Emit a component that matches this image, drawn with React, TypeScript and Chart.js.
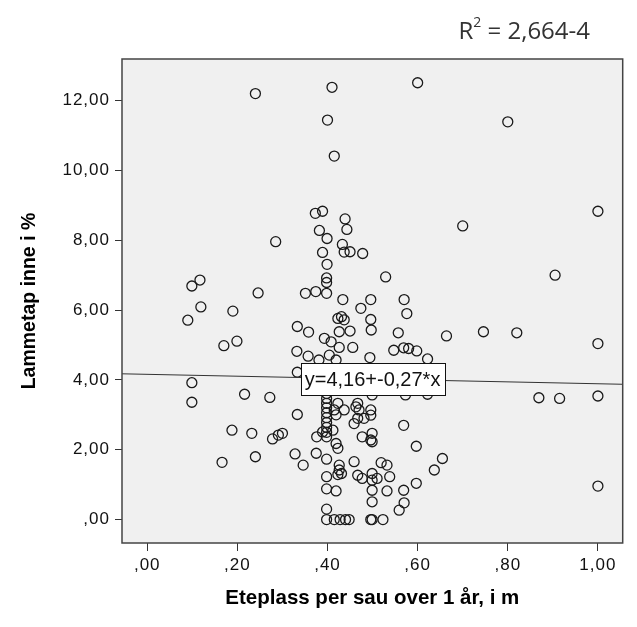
import React, { useEffect, useRef } from "react";
import { Chart, registerables } from "chart.js";

Chart.register(...registerables);

// Eteplass per sau (m) and lammetap inne (%) for each farm
const eteplass = [
  0.24, 0.41, 0.4, 0.415, 0.6, 0.8, 1.0, 0.7, 0.905, 0.529,
  0.373, 0.389, 0.439, 0.443, 0.382, 0.399, 0.285, 0.433, 0.389, 0.437,
  0.45, 0.478, 0.399, 0.398, 0.398, 0.117, 0.099, 0.246, 0.351, 0.374,
  0.398, 0.434, 0.496, 0.57, 0.474, 0.119, 0.09, 0.19, 0.17, 0.199,
  0.576, 0.496, 0.497, 0.333, 0.358, 0.423, 0.431, 0.437, 0.426, 0.45,
  0.557, 0.664, 0.746, 0.82, 1.0, 0.393, 0.408, 0.426, 0.456, 0.332,
  0.357, 0.381, 0.404, 0.419, 0.494, 0.547, 0.569, 0.58, 0.598, 0.622,
  0.333, 0.4, 0.46, 0.55, 0.573, 0.622, 0.499, 0.869, 0.915, 1.0,
  0.099, 0.099, 0.216, 0.272, 0.333, 0.419, 0.423, 0.467, 0.415, 0.437,
  0.463, 0.47, 0.496, 0.459, 0.467, 0.481, 0.496, 0.569, 0.499, 0.499,
  0.597, 0.655, 0.637, 0.519, 0.532, 0.538, 0.499, 0.499, 0.499, 0.499,
  0.51, 0.532, 0.569, 0.597, 0.57, 0.559, 0.499, 0.523, 1.0, 0.188,
  0.232, 0.278, 0.291, 0.3, 0.166, 0.24, 0.328, 0.346, 0.376, 0.389,
  0.412, 0.375, 0.398, 0.419, 0.423, 0.426, 0.426, 0.431, 0.423, 0.459,
  0.467, 0.477, 0.477, 0.496, 0.398, 0.398, 0.419, 0.398, 0.398, 0.415,
  0.428, 0.44, 0.448, 0.496, 0.398, 0.398, 0.398, 0.398, 0.398, 0.398,
  0.398, 0.398, 0.398, 0.398,
];

const lammetap = [
  12.2, 12.38, 11.44, 10.41, 12.51, 11.39, 8.83, 8.41, 7.0, 6.95,
  8.77, 8.83, 8.61, 8.31, 8.28, 8.05, 7.96, 7.88, 7.65, 7.66,
  7.67, 7.62, 7.31, 6.92, 6.79, 6.86, 6.69, 6.49, 6.48, 6.53,
  6.48, 6.3, 6.3, 6.3, 6.05, 6.09, 5.71, 5.97, 4.98, 5.11,
  5.9, 5.73, 5.43, 5.53, 5.37, 5.76, 5.81, 5.72, 5.38, 5.4,
  5.35, 5.26, 5.38, 5.35, 5.04, 5.19, 5.09, 4.93, 4.93, 4.82,
  4.68, 4.57, 4.71, 4.57, 4.64, 4.85, 4.92, 4.9, 4.83, 4.6,
  4.22, 4.15, 3.95, 4.1, 3.57, 3.59, 3.57, 3.49, 3.47, 3.54,
  3.92, 3.36, 3.59, 3.5, 3.01, 3.0, 3.33, 3.33, 3.14, 3.14,
  3.23, 3.14, 3.14, 2.75, 2.9, 2.9, 2.99, 2.7, 2.47, 2.23,
  2.1, 1.75, 1.42, 1.63, 1.56, 1.23, 1.32, 1.13, 0.84, 0.51,
  1.18, 0.82, 0.84, 1.04, 0.48, 0.27, 0.0, 0.0, 0.96, 2.56,
  2.47, 2.31, 2.42, 2.47, 1.64, 1.8, 1.88, 1.56, 2.37, 2.51,
  2.56, 1.9, 1.73, 2.18, 2.04, 1.56, 1.42, 1.32, 1.29, 1.66,
  1.27, 1.18, 2.37, 2.28, 1.23, 0.88, 0.82, 0.3, 0.0, 0.0,
  0.0, 0.0, 0.0, 0.0, 3.61, 3.47, 3.33, 3.2, 3.06, 2.92,
  2.78, 2.64, 2.5, 2.37,
];

const xTicks = [0, 0.2, 0.4, 0.6, 0.8, 1.0];
const yTicks = [0, 2, 4, 6, 8, 10, 12];
const xRange = [-0.056, 1.055];
const yRange = [-0.67, 13.19];

// Linear fit reported for the cloud
const fitIntercept = 4.16;
const fitSlope = -0.27;
const fitLabelAt = 0.5;
const rSquaredText = "2,664-4";

const xTitle = "Eteplass per sau over 1 år, i m";
const yTitle = "Lammetap inne i %";

const CANVAS_W = 621;
const CANVAS_H = 611;

// SPSS style numbers: decimal comma, no leading zero below 1
const axisNum = (v: number) => {
  const s = Math.abs(v).toFixed(2).replace(".", ",");
  const t = s.startsWith("0,") ? s.slice(1) : s;
  return (v < 0 ? "-" : "") + t;
};
const eqNum = (v: number) => v.toFixed(2).replace(".", ",");

const TICK_FONT = "'Liberation Sans', Arial, sans-serif";

const decorPlugin = {
  id: "spssDecor",
  beforeDraw(chart: any) {
    const { ctx, chartArea: a } = chart;
    ctx.save();
    ctx.fillStyle = "#ffffff";
    ctx.fillRect(0, 0, chart.width, chart.height);
    ctx.fillStyle = "#f0f0f0";
    ctx.fillRect(a.left, a.top, a.right - a.left, a.bottom - a.top);
    ctx.restore();
    // slightly spaced tick numerals
    ctx.letterSpacing = "1px";
  },
  beforeDatasetsDraw(chart: any) {
    chart.ctx.letterSpacing = "0px";
  },
  afterDatasetsDraw(chart: any) {
    const { ctx, scales } = chart;
    const px = scales.x.getPixelForValue(fitLabelAt);
    const py = scales.y.getPixelForValue(fitIntercept + fitSlope * fitLabelAt);
    const text = `y=${eqNum(fitIntercept)}+${eqNum(fitSlope)}*x`;
    ctx.save();
    ctx.font = "20px 'Liberation Sans Narrow', 'Liberation Sans', Arial, sans-serif";
    const w = Math.round(ctx.measureText(text).width + 8);
    const h = 32;
    const bx = Math.round(px - w / 2) + 0.5;
    const by = Math.round(py - h / 2) + 0.5;
    ctx.fillStyle = "#ffffff";
    ctx.fillRect(bx, by, w, h);
    ctx.strokeStyle = "#111";
    ctx.lineWidth = 1;
    ctx.strokeRect(bx, by, w, h);
    ctx.fillStyle = "#111";
    ctx.textAlign = "center";
    ctx.textBaseline = "middle";
    ctx.fillText(text, px, py + 1);
    ctx.restore();
  },
  afterDraw(chart: any) {
    const { ctx, chartArea: a } = chart;
    ctx.save();
    ctx.letterSpacing = "0px";
    // plot frame
    ctx.strokeStyle = "#444";
    ctx.lineWidth = 1.5;
    ctx.strokeRect(a.left, a.top, a.right - a.left, a.bottom - a.top);

    // axis titles
    ctx.fillStyle = "#000";
    ctx.textAlign = "center";
    ctx.textBaseline = "middle";
    ctx.font = "bold 20.5px 'Liberation Sans', Arial, sans-serif";
    ctx.fillText(xTitle, (a.left + a.right) / 2, 590);
    ctx.save();
    ctx.font = "bold 19.5px 'Liberation Sans', Arial, sans-serif";
    ctx.translate(22, (a.top + a.bottom) / 2);
    ctx.rotate(-Math.PI / 2);
    ctx.fillText(yTitle, 0, 0);
    ctx.restore();

    // R squared
    ctx.fillStyle = "#333";
    ctx.textBaseline = "alphabetic";
    ctx.textAlign = "left";
    const mainFont = "24px 'Open Sans', 'Noto Sans', sans-serif";
    const supFont = "14px 'Open Sans', 'Noto Sans', sans-serif";
    ctx.font = mainFont;
    const rest = ` = ${rSquaredText}`;
    const wR = ctx.measureText("R").width;
    const wRest = ctx.measureText(rest).width;
    ctx.font = supFont;
    const wSup = ctx.measureText("2").width;
    const right = 582;
    let x = right - (wR + wSup + wRest);
    const base = 31;
    ctx.font = mainFont;
    ctx.fillText("R", x, base);
    x += wR;
    ctx.font = supFont;
    ctx.fillText("2", x, base - 12);
    x += wSup;
    ctx.font = mainFont;
    ctx.fillText(rest, x, base);
    ctx.restore();
  },
};

export default function App() {
  const ref = useRef<HTMLCanvasElement | null>(null);

  useEffect(() => {
    if (!ref.current) return;
    const points = eteplass.map((v, i) => ({ x: v, y: lammetap[i] }));
    const fitLine = xRange.map((v) => ({ x: v, y: fitIntercept + fitSlope * v }));

    const chart = new Chart(ref.current, {
      type: "scatter",
      data: {
        datasets: [
          {
            type: "line",
            data: fitLine,
            borderColor: "#333",
            borderWidth: 1,
            pointRadius: 0,
            fill: false,
          } as any,
          {
            data: points,
            pointStyle: "circle",
            pointRadius: 5,
            pointBorderWidth: 1.3,
            borderColor: "#1a1a1a",
            backgroundColor: "rgba(0,0,0,0)",
            pointBackgroundColor: "rgba(0,0,0,0)",
          },
        ],
      },
      plugins: [decorPlugin],
      options: {
        responsive: false,
        animation: false,
        events: [],
        layout: { padding: { top: 51, right: 1, left: 0, bottom: 0 } },
        plugins: {
          legend: { display: false },
          tooltip: { enabled: false },
          title: { display: false },
        },
        scales: {
          x: {
            type: "linear",
            min: xRange[0],
            max: xRange[1],
            afterBuildTicks: (s: any) => {
              s.ticks = xTicks.map((v) => ({ value: v }));
            },
            afterFit: (s: any) => {
              s.height = CANVAS_H - 535;
            },
            border: { display: false },
            grid: {
              drawOnChartArea: false,
              drawTicks: true,
              tickLength: 8,
              tickColor: "#333",
              tickWidth: 1,
            },
            ticks: {
              padding: 4,
              maxRotation: 0,
              color: "#111",
              font: { family: TICK_FONT, size: 17 },
              callback: (v: any) => axisNum(Number(v)),
            },
          },
          y: {
            type: "linear",
            min: yRange[0],
            max: yRange[1],
            afterBuildTicks: (s: any) => {
              s.ticks = yTicks.map((v) => ({ value: v }));
            },
            afterFit: (s: any) => {
              s.width = 114;
            },
            border: { display: false },
            grid: {
              drawOnChartArea: false,
              drawTicks: true,
              tickLength: 7,
              tickColor: "#333",
              tickWidth: 1,
            },
            ticks: {
              padding: 5,
              color: "#111",
              font: { family: TICK_FONT, size: 17 },
              callback: (v: any) => axisNum(Number(v)),
            },
          },
        },
      },
    });
    return () => chart.destroy();
  }, []);

  return (
    <div style={{ width: CANVAS_W, height: CANVAS_H }}>
      <canvas ref={ref} width={CANVAS_W} height={CANVAS_H} style={{ display: "block" }} />
    </div>
  );
}
